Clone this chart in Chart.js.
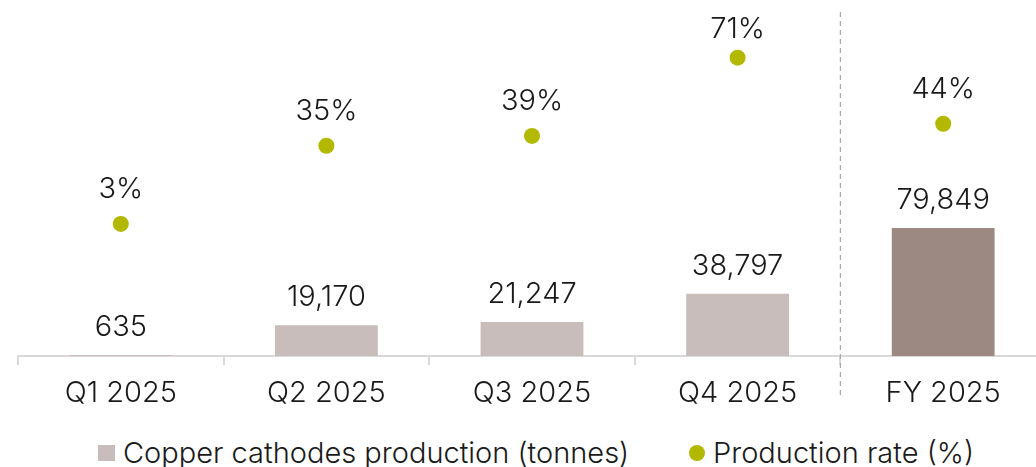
<!DOCTYPE html>
<html lang="en">
<head>
  <meta charset="UTF-8" />
  <title>Copper cathodes production 2025</title>
  <script src="https://cdn.jsdelivr.net/npm/chart.js"></script>
  <style>
    * { box-sizing: border-box; margin: 0; padding: 0; }
    html, body { width: 1036px; height: 467px; overflow: hidden; background: #fff; }
    body { font-family: "Inter", sans-serif; font-weight: 300; color: #1a1a1a; position: relative; }
    #chart { position: absolute; left: 0; top: 0; }
    .item { position: absolute; top: 436px; display: flex; align-items: center; font-size: 29px; line-height: 34px; white-space: nowrap; }
    .item.bars { left: 98px; }
    .item.rate { left: 689px; }
    .swatch { width: 17px; height: 16px; margin-right: 8px; background: #c8bdba; }
    .dot { width: 16px; height: 16px; margin-right: 8px; border-radius: 50%; background: #b3b800; }
  </style>
</head>
<body>
  <canvas id="chart" width="1046" height="420"></canvas>
  <div class="item bars"><span class="swatch"></span>Copper cathodes production (tonnes)</div>
  <div class="item rate"><span class="dot"></span>Production rate (%)</div>

  <script>
    const categories = ["Q1 2025", "Q2 2025", "Q3 2025", "Q4 2025", "FY 2025"];
    const production = [635, 19170, 21247, 38797, 79849];
    const rate = [3, 35, 39, 71, 44];

    const barColors = ["#c8bdba", "#c8bdba", "#c8bdba", "#c8bdba", "#9c8a82"];
    const rateColor = "#b3b800";
    const textColor = "#1a1a1a";
    const font = "Inter, sans-serif";

    // value labels above bars and points, plus dashed separator before FY
    const labelPlugin = {
      id: "labels",
      afterDatasetsDraw(chart) {
        const ctx = chart.ctx;
        const x = chart.scales.x;
        ctx.save();

        const sep = (x.getPixelForValue(3) + x.getPixelForValue(4)) / 2;
        ctx.strokeStyle = "#a8a8a8";
        ctx.lineWidth = 1.2;
        ctx.setLineDash([5, 4]);
        ctx.beginPath();
        ctx.moveTo(sep, 12);
        ctx.lineTo(sep, 398);
        ctx.stroke();
        ctx.setLineDash([]);

        ctx.fillStyle = textColor;
        ctx.font = "300 29px " + font;
        ctx.textAlign = "center";
        ctx.textBaseline = "alphabetic";

        chart.getDatasetMeta(0).data.forEach((bar, i) => {
          ctx.fillText(production[i].toLocaleString("en-US"), bar.x, bar.y - 19);
        });
        chart.getDatasetMeta(1).data.forEach((pt, i) => {
          ctx.fillText(rate[i] + "%", pt.x, Math.max(pt.y - 26, 38));
        });
        ctx.restore();
      }
    };

    new Chart(document.getElementById("chart"), {
      data: {
        labels: categories,
        datasets: [
          {
            type: "bar",
            label: "Copper cathodes production (tonnes)",
            data: production,
            backgroundColor: barColors,
            yAxisID: "y",
            categoryPercentage: 1,
            barPercentage: 0.5,
            order: 2
          },
          {
            type: "line",
            label: "Production rate (%)",
            data: rate,
            yAxisID: "y1",
            showLine: false,
            pointRadius: 8,
            pointBackgroundColor: rateColor,
            pointBorderWidth: 0,
            clip: false,
            order: 1
          }
        ]
      },
      options: {
        responsive: false,
        animation: false,
        layout: { autoPadding: false, padding: { left: 18, right: 0, top: 0, bottom: 0 } },
        plugins: { legend: { display: false }, tooltip: { enabled: false } },
        scales: {
          x: {
            offset: true,
            grid: { offset: true, drawOnChartArea: false, drawTicks: true, tickLength: 9, color: "#d9d9d9", lineWidth: 2 },
            border: { color: "#d9d9d9", width: 2 },
            ticks: { color: textColor, font: { family: font, size: 29, weight: "300" }, padding: 11 },
            afterFit(scale) { scale.height = 64; }
          },
          y: { display: false, min: 0, max: 222000 },
          y1: { display: false, min: -51, max: 94.6 }
        }
      },
      plugins: [labelPlugin]
    });
  </script>
</body>
</html>
